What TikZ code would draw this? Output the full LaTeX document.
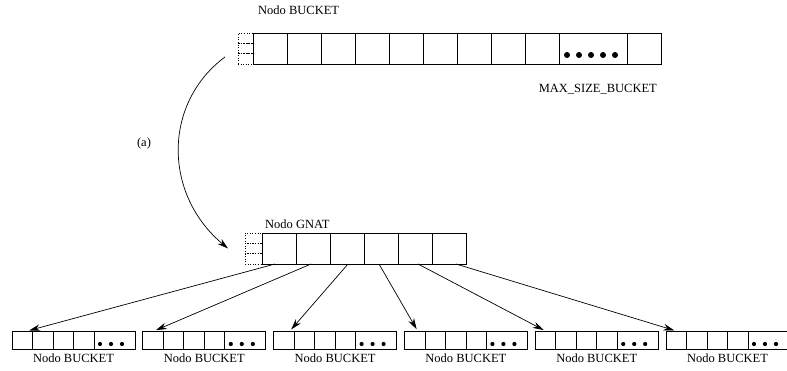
\documentclass[tikz,border=0pt]{standalone}
\usepackage{fontspec}
\setmainfont{Liberation Serif}
\usetikzlibrary{arrows.meta,positioning,calc}

\begin{document}
\begin{tikzpicture}[x=1pt, y=-1pt, node distance=0pt,
  every node/.style={font=\fontsize{12.5}{14}\selectfont},
  cell/.style={draw, line width=0.7pt, inner sep=0pt, outer sep=0pt, minimum width=34pt, minimum height=31pt},
  scell/.style={draw, line width=0.7pt, inner sep=0pt, outer sep=0pt, minimum width=20.5pt, minimum height=18pt},
  pcell/.style={draw, dotted, line width=0.6pt, inner sep=0pt, outer sep=0pt, minimum height=10.33pt},
  lbl/.style={inner sep=0pt},
  link/.style={-{Stealth[length=11pt,width=6.5pt]}, line width=0.7pt}]
\useasboundingbox (0,0) rectangle (787,371);

% nodo BUCKET de arriba
\node[cell, anchor=north west] (b1) at (253,33) {};
\foreach \i [count=\p from 1] in {2,...,9}
  \node[cell, right=of b\p] (b\i) {};
\node[cell, minimum width=68pt, right=of b9] (bd) {};
\node[cell, right=of bd] (b10) {};
\node[pcell, minimum width=15pt, anchor=north east] (bp1) at (b1.north west) {};
\node[pcell, minimum width=15pt, below=of bp1] (bp2) {};
\node[pcell, minimum width=15pt, below=of bp2] (bp3) {};
\foreach \k in {0,...,4}
  \fill ([xshift={(12*\k-26)*1pt}, yshift=9pt]bd.south) circle (3pt);

\node[lbl, anchor=base west] (bt) at ([xshift=5pt, yshift=18pt]b1.north west) {Nodo BUCKET};
\node[lbl, anchor=base east] (mx) at ([xshift=-4pt, yshift=-29pt]b10.south east) {MAX\_SIZE\_BUCKET};

% nodo GNAT
\node[cell, anchor=north west] (g1) at (262,233) {};
\foreach \i [count=\p from 1] in {2,...,6}
  \node[cell, right=of g\p] (g\i) {};
\node[pcell, minimum width=17pt, anchor=north east] (gp1) at (g1.north west) {};
\node[pcell, minimum width=17pt, below=of gp1] (gp2) {};
\node[pcell, minimum width=17pt, below=of gp2] (gp3) {};
\node[lbl, anchor=base west] (gt) at ([xshift=3pt, yshift=4pt]g1.north west) {Nodo GNAT};

% hijos
\foreach \j in {1,...,6} {
  \node[scell, anchor=north west] (k\j-1) at ({12+130.8*(\j-1)},331) {};
  \foreach \i [count=\p from 1] in {2,3,4}
    \node[scell, right=of k\j-\p] (k\j-\i) {};
  \node[scell, minimum width=41pt, right=of k\j-4] (k\j-d) {};
  \foreach \k in {0,1,2}
    \fill ([xshift={(11*\k-14.5)*1pt}, yshift=5pt]k\j-d.south) circle (2.1pt);
  \node[lbl, below=5pt of k\j-3.south east] (k\j-l) {Nodo BUCKET};
}

% (a)
\draw[link] ([xshift=-13pt, yshift=7pt]bp3.south west) .. controls (163,103) and (163,194) .. ([xshift=-17pt]gp2.west);
\node[lbl] (a) at (144,143) {(a)};

\foreach \i/\a/\b in {1/-4/5, 2/-2/1, 3/1/6, 4/-2/3, 5/3/0, 6/7/0}
  \draw[link, shorten >=2pt] ([xshift=\a pt]g\i.south) -- ([xshift=\b pt]k\i-1.north);
\end{tikzpicture}
\end{document}
